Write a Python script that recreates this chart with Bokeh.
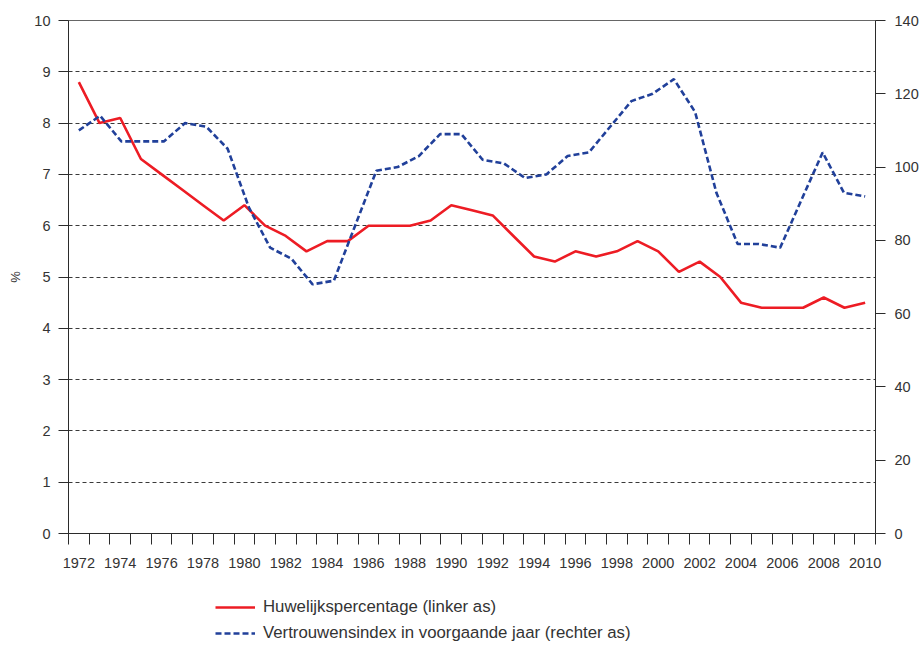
import numpy as np
from bokeh.plotting import figure
from bokeh.layouts import column
from bokeh.models import Range1d, LinearAxis, FixedTicker, Legend, LegendItem
from bokeh.embed import file_html
from bokeh.resources import INLINE

# ---- data -------------------------------------------------------------
years = list(range(1972, 2011))
marriage_pct = [8.8, 8.0, 8.1, 7.3, 7.0, 6.7, 6.4, 6.1, 6.4, 6.0,
                5.8, 5.5, 5.7, 5.7, 6.0, 6.0, 6.0, 6.1, 6.4, 6.3,
                6.2, 5.8, 5.4, 5.3, 5.5, 5.4, 5.5, 5.7, 5.5, 5.1,
                5.3, 5.0, 4.5, 4.4, 4.4, 4.4, 4.6, 4.4, 4.5]
confidence_index = [110, 114, 107, 107, 107, 112, 111, 105, 89, 78,
                    75, 68, 69, 84, 99, 100, 103, 109, 109, 102,
                    101, 97, 98, 103, 104, 111, 118, 120, 124, 115,
                    93, 79, 79, 78, 91, 104, 93, 92]
year_labels = [str(y) for y in range(1972, 2011, 2)]
left_ticks = list(range(0, 11))
right_ticks = list(range(0, 141, 20))
legend_labels = ["Huwelijkspercentage (linker as)",
                 "Vertrouwensindex in voorgaande jaar (rechter as)"]

# the index series is spread evenly over the same span of years
conf_x = np.linspace(years[0], years[-1], len(confidence_index))

FONT = "Liberation Sans"
TXT = "#333333"
AX = "#2b2b2b"
RED = "#ed1c24"
BLUE = "#21409a"

p = figure(width=922, height=575, output_backend="svg", toolbar_location=None,
           x_range=Range1d(years[0] - 0.5, years[-1] + 0.5),
           y_range=Range1d(0, 10),
           min_border_left=68, min_border_right=47,
           min_border_top=20, min_border_bottom=42)
p.extra_y_ranges = {"right": Range1d(0, 140)}
p.background_fill_color = None
p.border_fill_color = "white"
p.outline_line_color = "#666666"
p.outline_line_width = 1

# grid
p.xgrid.visible = False
p.ygrid.ticker = FixedTicker(ticks=left_ticks[1:-1])
p.ygrid.grid_line_color = "#3a3a3a"
p.ygrid.grid_line_dash = "4 3"
p.ygrid.grid_line_width = 1

# x axis
xa = p.xaxis[0]
xa.ticker = FixedTicker(ticks=list(range(1972, 2011, 2)),
                        minor_ticks=[y - 0.5 for y in range(1972, 2012)])
xa.major_label_overrides = {int(l): l for l in year_labels}
xa.major_tick_out = 0
xa.major_tick_in = 0
xa.major_tick_line_color = None
xa.minor_tick_out = 11
xa.minor_tick_in = 0
xa.minor_tick_line_color = AX
xa.axis_line_color = AX
xa.major_label_standoff = 13
xa.major_label_text_font = FONT
xa.major_label_text_font_size = "14.5px"
xa.major_label_text_color = TXT

# left axis
ya = p.yaxis[0]
ya.ticker = FixedTicker(ticks=left_ticks)
ya.major_tick_out = 10
ya.major_tick_in = 0
ya.minor_tick_line_color = None
ya.major_tick_line_color = AX
ya.axis_line_color = AX
ya.major_label_standoff = 8
ya.major_label_text_font = FONT
ya.major_label_text_font_size = "14.5px"
ya.major_label_text_color = TXT
ya.axis_label = "%"
ya.axis_label_text_font = FONT
ya.axis_label_text_font_size = "13px"
ya.axis_label_text_font_style = "normal"
ya.axis_label_text_color = TXT
ya.axis_label_standoff = 8

# right axis
ra = LinearAxis(y_range_name="right", ticker=FixedTicker(ticks=right_ticks))
ra.major_tick_out = 10
ra.major_tick_in = 0
ra.minor_tick_line_color = None
ra.major_tick_line_color = AX
ra.axis_line_color = AX
ra.major_label_standoff = 9
ra.major_label_text_font = FONT
ra.major_label_text_font_size = "14.5px"
ra.major_label_text_color = TXT
p.add_layout(ra, "right")

# lines
p.line(years, marriage_pct, line_color=RED, line_width=2.6)
p.line(conf_x, confidence_index, y_range_name="right",
       line_color=BLUE, line_width=2.6, line_dash="6 3")

# ---- legend strip below the chart ---------------------------------------
q = figure(width=922, height=70, output_backend="svg", toolbar_location=None,
           x_range=Range1d(0, 1), y_range=Range1d(0, 1),
           x_axis_type=None, y_axis_type=None,
           min_border_left=0, min_border_right=0,
           min_border_top=0, min_border_bottom=0)
q.outline_line_color = None
q.background_fill_color = None
q.grid.visible = False
# off-screen stand-in renderers that only provide the legend swatches
k_red = q.line([-5, -4], [-5, -4], line_color=RED, line_width=2.6)
k_blue = q.line([-5, -4], [-5, -4], line_color=BLUE, line_width=2.6,
                line_dash="6 3")

legend = Legend(items=[LegendItem(label=legend_labels[0], renderers=[k_red]),
                       LegendItem(label=legend_labels[1], renderers=[k_blue])],
                location=(147, 0), orientation="vertical",
                padding=0, margin=0, spacing=2,
                glyph_width=40, glyph_height=24, label_height=24,
                label_standoff=8,
                label_text_font=FONT, label_text_font_size="16.8px",
                label_text_color=TXT,
                border_line_color=None, background_fill_alpha=0)
q.add_layout(legend, "center")

layout = column(p, q, spacing=0)
open("out.html", "w").write(file_html(layout, INLINE))
